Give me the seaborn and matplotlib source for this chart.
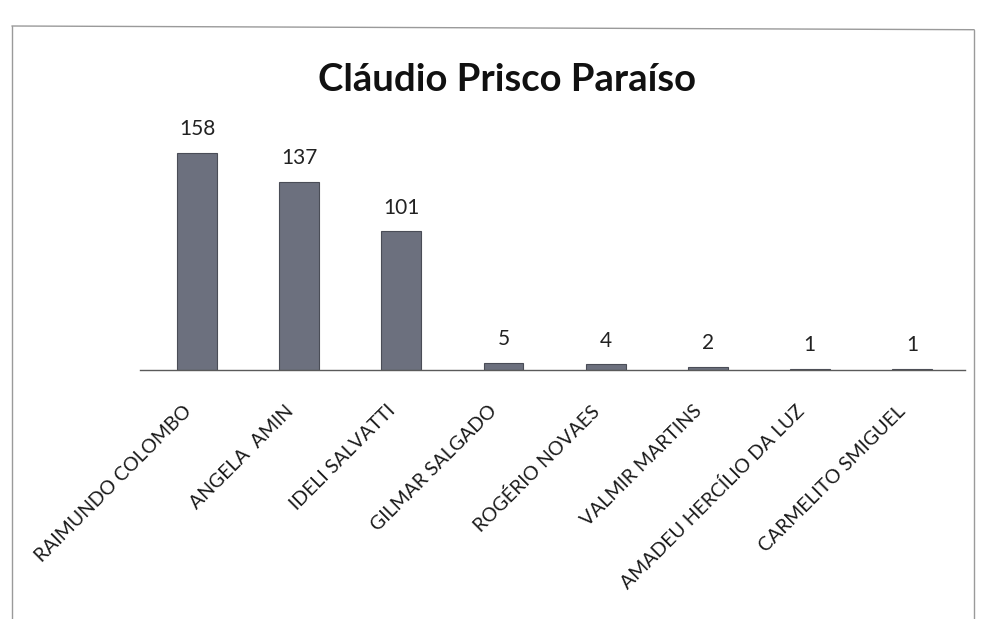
import matplotlib
matplotlib.use("Agg")
import matplotlib.pyplot as plt
from matplotlib.lines import Line2D
from matplotlib.transforms import ScaledTranslation
import seaborn as sns
import pandas as pd

candidates = ["RAIMUNDO COLOMBO", "ANGELA  AMIN", "IDELI SALVATTI", "GILMAR SALGADO",
              "ROGÉRIO NOVAES", "VALMIR MARTINS", "AMADEU HERCÍLIO DA LUZ", "CARMELITO SMIGUEL"]
votes = [158, 137, 101, 5, 4, 2, 1, 1]
title = "Cláudio Prisco Paraíso"

df = pd.DataFrame({"candidato": candidates, "votos": votes})

sns.set_theme(style="white")
plt.rcParams["font.family"] = ["Lato", "DejaVu Sans"]

fig = plt.figure(figsize=(9.89, 6.19), dpi=100)
ax = fig.add_axes([0.1416, 0.4023, 0.8341, 0.399])

sns.barplot(data=df, x="candidato", y="votos", color="#6c707e", width=0.39,
            edgecolor="#4a4d57", linewidth=0.8, saturation=1, ax=ax)

ax.set_xlim(-0.56, 7.52)
ax.set_ylim(0, 180)
ax.set_xlabel("")
ax.set_ylabel("")
ax.set_yticks([])
for side in ["top", "right", "left"]:
    ax.spines[side].set_visible(False)
ax.spines["bottom"].set_color("#5a5a5a")
ax.spines["bottom"].set_linewidth(1.0)
ax.tick_params(axis="x", length=0, pad=16)

shift = ScaledTranslation(-0.15, -0.10, fig.dpi_scale_trans)
for lbl in ax.get_xticklabels():
    lbl.set_rotation(45)
    lbl.set_ha("right")
    lbl.set_rotation_mode("anchor")
    lbl.set_fontsize(14)
    lbl.set_color("#1a1a1a")
    lbl.set_transform(lbl.get_transform() + shift)

for i, v in enumerate(votes):
    ax.annotate(str(v), (i, v), xytext=(0, 10), textcoords="offset points",
                ha="center", va="bottom", fontsize=15, color="#222222")

fig.text(0.513, 0.87, title, ha="center", va="center", fontsize=27.5,
         fontweight="bold", color="#111111")

# outer chart frame
frame_kw = dict(color="#9a9a9a", linewidth=1.0, transform=fig.transFigure)
fig.add_artist(Line2D([0.012, 0.012], [0.0, 0.958], **frame_kw))
fig.add_artist(Line2D([0.012, 0.985], [0.958, 0.952], **frame_kw))
fig.add_artist(Line2D([0.985, 0.985], [0.0, 0.952], **frame_kw))

fig.savefig("out.png", dpi=100, facecolor="white")
